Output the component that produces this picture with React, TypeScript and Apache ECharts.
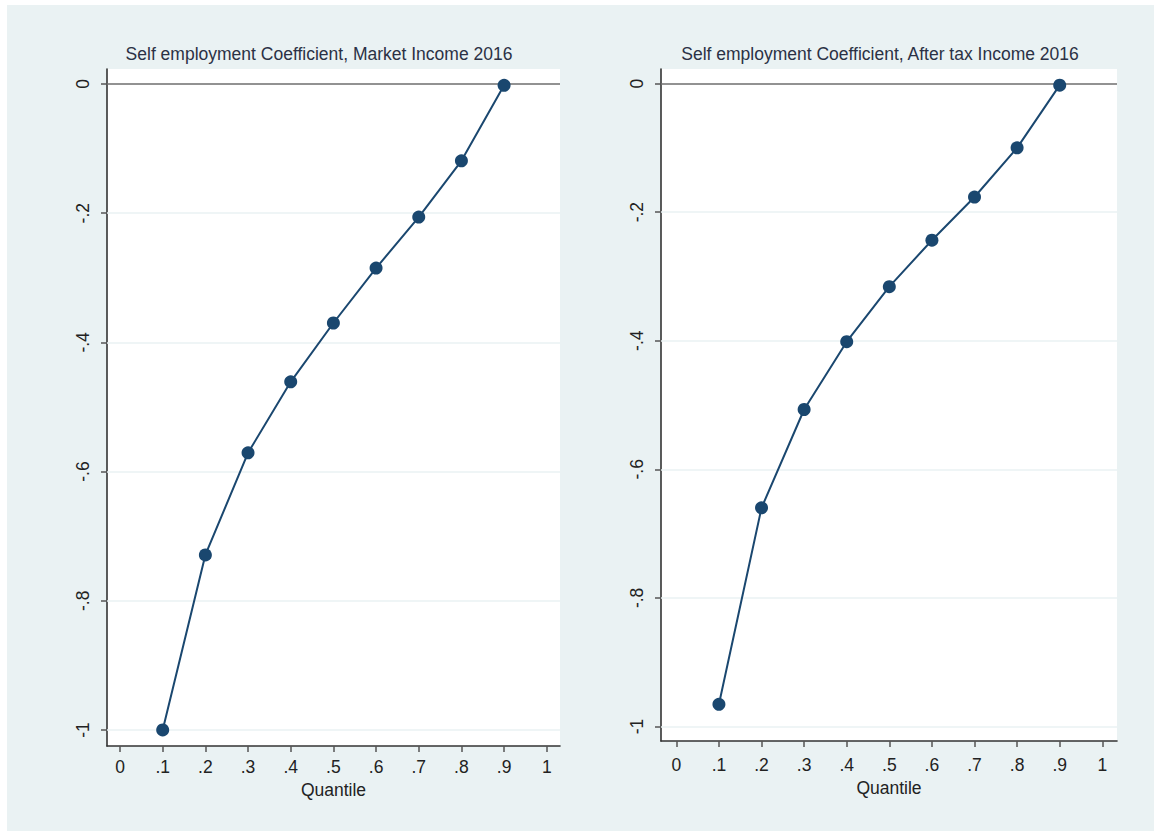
import React, { useEffect, useRef } from "react";
import * as echarts from "echarts";

const quantiles = [0.1, 0.2, 0.3, 0.4, 0.5, 0.6, 0.7, 0.8, 0.9];
const marketCoef = [-1.0, -0.729, -0.571, -0.461, -0.37, -0.285, -0.206, -0.119, -0.002];
const afterTaxCoef = [-0.9655, -0.66, -0.507, -0.4016, -0.316, -0.2437, -0.1765, -0.1, -0.0025];
const xTicks = [0, 0.1, 0.2, 0.3, 0.4, 0.5, 0.6, 0.7, 0.8, 0.9, 1];
const yTicks = [0, -0.2, -0.4, -0.6, -0.8, -1];
const gridLines = [-0.2, -0.4, -0.6, -0.8, -1];
const titles = [
  "Self employment Coefficient, Market Income 2016",
  "Self employment Coefficient, After tax Income 2016",
];
const xTitle = "Quantile";

const NAVY = "#1a476f";
const FONT = "'Liberation Sans', Arial, sans-serif";

function fmt(v: number): string {
  const r = Math.round(v * 10) / 10;
  if (Number.isInteger(r)) return String(r);
  return r.toFixed(1).replace("0.", ".");
}

export default function App() {
  const ref = useRef<HTMLDivElement>(null);
  useEffect(() => {
    if (!ref.current) return;
    const chart = echarts.init(ref.current, null, { renderer: "svg" });

    const grids = [
      { left: 107, top: 69, width: 453, height: 677 },
      { left: 661, top: 69, width: 456, height: 672 },
    ];
    const xRanges = [
      [-0.0305, 1.031],
      [-0.036, 1.0345],
    ];
    const yRanges = [
      [-1.0248, 0.0232],
      [-1.0226, 0.0226],
    ];
    const series: any[] = [];
    const datasets = [marketCoef, afterTaxCoef];
    [0, 1].forEach((i) => {
      series.push({
        type: "line",
        xAxisIndex: i,
        yAxisIndex: i,
        data: [],
        z: 1,
        silent: true,
        markLine: {
          silent: true,
          z: 1,
          symbol: ["none", "none"],
          label: { show: false },
          animation: false,
          lineStyle: { color: "#eaf2f3", width: 1.5, type: "solid" },
          data: [
            ...gridLines.map((v) => ({ yAxis: v })),
            { yAxis: 0, lineStyle: { color: "#6e6e6e", width: 1.6, type: "solid" } },
          ],
        },
      });
      series.push({
        type: "line",
        xAxisIndex: i,
        yAxisIndex: i,
        z: 10,
        data: quantiles.map((q, k) => [q, datasets[i][k]]),
        symbol: "circle",
        symbolSize: 13,
        itemStyle: { color: NAVY },
        lineStyle: { color: NAVY, width: 2 },
      });
    });

    const titleStyle = { fontFamily: FONT, fontSize: 17.5, fontWeight: "normal", color: "#2b3145" };

    chart.setOption({
      animation: false,
      backgroundColor: "#eaf2f3",
      textStyle: { fontFamily: FONT },
      graphic: [
        { type: "rect", shape: { x: 0, y: 0, width: 1154, height: 5 }, style: { fill: "#ffffff" } },
        { type: "rect", shape: { x: 0, y: 0, width: 7, height: 831 }, style: { fill: "#ffffff" } },
      ],
      title: [
        { text: titles[0], left: 314, top: 40, textAlign: "center", textStyle: titleStyle },
        { text: titles[1], left: 875, top: 40, textAlign: "center", textStyle: titleStyle },
      ],
      grid: grids.map((g) => ({
        ...g,
        show: true,
        backgroundColor: "#ffffff",
        borderWidth: 0,
        containLabel: false,
      })),
      xAxis: [0, 1].map((i) => ({
        type: "value",
        gridIndex: i,
        min: xRanges[i][0],
        max: xRanges[i][1],
        name: xTitle,
        nameLocation: "middle",
        nameGap: i === 0 ? 31 : 35,
        nameTextStyle: { fontFamily: FONT, fontSize: 17.5, color: "#222" },
        axisLine: { show: true, onZero: false, lineStyle: { color: "#333", width: 1.6 } },
        axisTick: { show: true, length: 6, customValues: xTicks, lineStyle: { color: "#555", width: 1.5 } },
        axisLabel: {
          customValues: xTicks,
          formatter: (v: number) => fmt(v),
          fontFamily: FONT,
          fontSize: 17.5,
          color: "#222",
          margin: i === 0 ? 12 : 15,
        },
        splitLine: { show: false },
      })),
      yAxis: [0, 1].map((i) => ({
        type: "value",
        gridIndex: i,
        min: yRanges[i][0],
        max: yRanges[i][1],
        axisLine: { show: true, onZero: false, lineStyle: { color: "#333", width: 1.6 } },
        axisTick: { show: true, length: 6, customValues: yTicks, lineStyle: { color: "#555", width: 1.5 } },
        axisLabel: {
          customValues: yTicks,
          formatter: (v: number) => fmt(v),
          rotate: 90,
          fontFamily: FONT,
          fontSize: 17.5,
          color: "#222",
          margin: 15,
        },
        splitLine: { show: false },
      })),
      series,
    });
    return () => chart.dispose();
  }, []);
  return (
    <div
      ref={ref}
      style={{ position: "fixed", left: 0, top: 0, width: 1154, height: 831 }}
    />
  );
}
